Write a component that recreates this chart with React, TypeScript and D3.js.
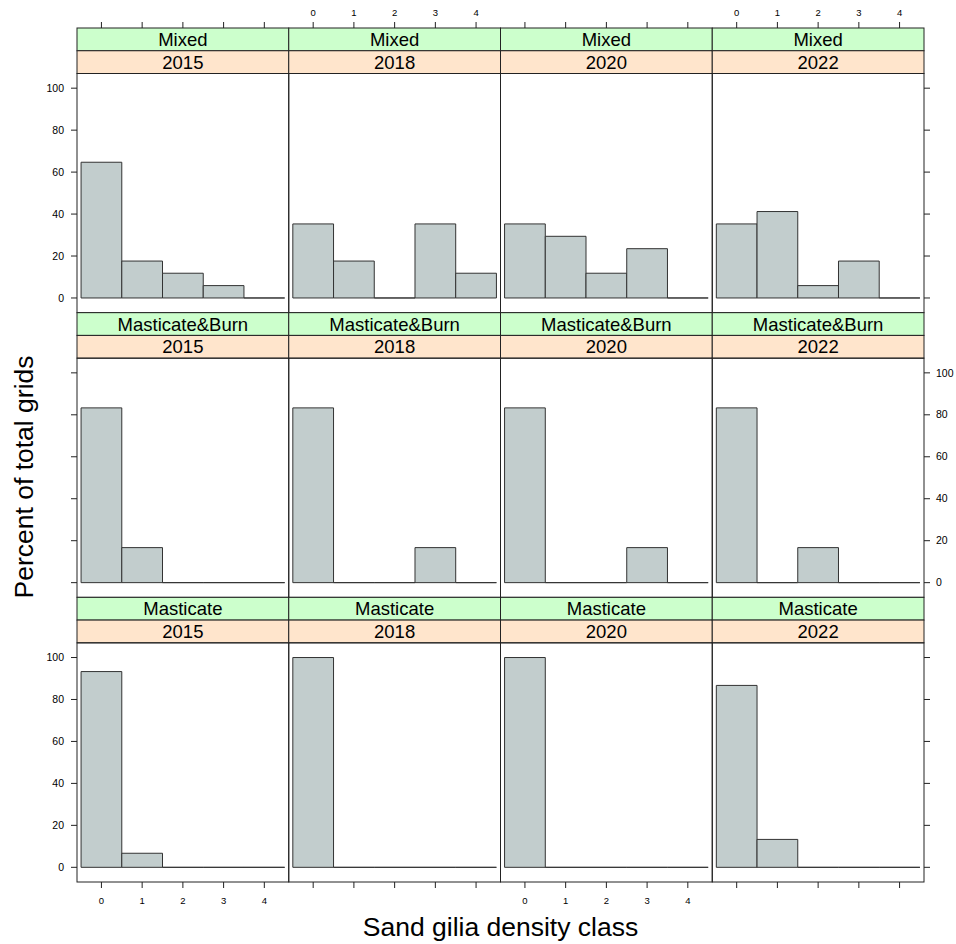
import React from 'react'
import * as d3 from 'd3'

// density classes on the x axis
const classes = [0, 1, 2, 3, 4]
const years = ['2015', '2018', '2020', '2022']
const treatments = ['Mixed', 'Masticate&Burn', 'Masticate']
const yTicks = [0, 20, 40, 60, 80, 100]

// percent of grids per density class, one array per panel (row = treatment, col = year)
const mixed2015 = [64.7, 17.6, 11.8, 5.9, 0]
const mixed2018 = [35.3, 17.6, 0, 35.3, 11.8]
const mixed2020 = [35.3, 29.4, 11.8, 23.5, 0]
const mixed2022 = [35.3, 41.2, 5.9, 17.6, 0]
const mb2015 = [83.3, 16.7, 0, 0, 0]
const mb2018 = [83.3, 0, 0, 16.7, 0]
const mb2020 = [83.3, 0, 0, 16.7, 0]
const mb2022 = [83.3, 0, 16.7, 0, 0]
const mast2015 = [93.3, 6.7, 0, 0, 0]
const mast2018 = [100, 0, 0, 0, 0]
const mast2020 = [100, 0, 0, 0, 0]
const mast2022 = [86.7, 13.3, 0, 0, 0]

const panels = [
  [mixed2015, mixed2018, mixed2020, mixed2022],
  [mb2015, mb2018, mb2020, mb2022],
  [mast2015, mast2018, mast2020, mast2022],
]

function App() {
  const width = 956
  const height = 944
  const left = 77
  const right = 924
  const top = 28
  const bottom = 882
  const colW = (right - left) / 4
  const rowH = (bottom - top) / 3
  const stripH = 22.75
  const font = '"Liberation Sans", Arial, sans-serif'
  const ink = '#222'

  const yScaleFor = (r: number) => {
    const pTop = top + r * rowH + 2 * stripH
    const pBottom = top + (r + 1) * rowH
    return d3.scaleLinear().domain([-7, 107]).range([pBottom, pTop])
  }
  const xScaleFor = (c: number) =>
    d3.scaleLinear().domain([-0.6, 4.6]).range([left + c * colW, left + (c + 1) * colW])

  return (
    <svg width={width} height={height} style={{ position: 'fixed', left: 0, top: 0 }} fontFamily={font}>
      <rect width={width} height={height} fill="#fff" />
      {panels.map((row, r) => {
        const y = yScaleFor(r)
        const rowTop = top + r * rowH
        return row.map((values, c) => {
          const x = xScaleFor(c)
          const x0 = left + c * colW
          return (
            <g key={`${r}-${c}`}>
              {/* strips: treatment above, year below */}
              <rect x={x0} y={rowTop} width={colW} height={stripH} fill="#ccffcc" stroke={ink} />
              <text x={x0 + colW / 2} y={rowTop + stripH / 2 + 6.6} textAnchor="middle" fontSize="18.5">{treatments[r]}</text>
              <rect x={x0} y={rowTop + stripH} width={colW} height={stripH} fill="#ffe5cc" stroke={ink} />
              <text x={x0 + colW / 2} y={rowTop + 1.5 * stripH + 6.6} textAnchor="middle" fontSize="18.5">{years[c]}</text>
              {/* histogram bars */}
              {values.map((v, i) => (
                <path key={i}
                  d={`M ${x(classes[i] - 0.5)} ${y(0)} V ${y(v)} H ${x(classes[i] + 0.5)} V ${y(0)} Z`}
                  fill="#c2cdcd" stroke="#333" strokeWidth="1" />
              ))}
              <rect x={x0} y={rowTop + 2 * stripH} width={colW} height={rowH - 2 * stripH} fill="none" stroke={ink} />
            </g>
          )
        })
      })}

      {/* top and bottom axes */}
      {years.map((yr, c) => {
        const x = xScaleFor(c)
        return (
          <g key={yr}>
            {classes.map(t => (
              <g key={t} transform={`translate(${x(t)} 0)`}>
                <line y1={top} y2={top - 6} stroke={ink} />
                <line y1={bottom} y2={bottom + 6} stroke={ink} />
                {c % 2 === 1 && <text y={top - 12.5} textAnchor="middle" fontSize="9.5">{t}</text>}
                {c % 2 === 0 && <text y={bottom + 22} textAnchor="middle" fontSize="9.5">{t}</text>}
              </g>
            ))}
          </g>
        )
      })}

      {/* left and right axes */}
      {treatments.map((tr, r) => {
        const y = yScaleFor(r)
        return (
          <g key={tr}>
            {yTicks.map(t => (
              <g key={t} transform={`translate(0 ${y(t)})`}>
                <line x1={left} x2={left - 6} stroke={ink} />
                <line x1={right} x2={right + 6} stroke={ink} />
                {r !== 1 && <text x={left - 13} dy="0.35em" textAnchor="end" fontSize="10.5">{t}</text>}
                {r === 1 && <text x={right + 12} dy="0.35em" textAnchor="start" fontSize="10.5">{t}</text>}
              </g>
            ))}
          </g>
        )
      })}

      <text x={(left + right) / 2} y={936} textAnchor="middle" fontSize="26.5">Sand gilia density class</text>
      <text transform={`translate(33 ${(top + bottom) / 2 + 22}) rotate(-90)`} textAnchor="middle" fontSize="26.5">Percent of total grids</text>
    </svg>
  )
}

export default App
